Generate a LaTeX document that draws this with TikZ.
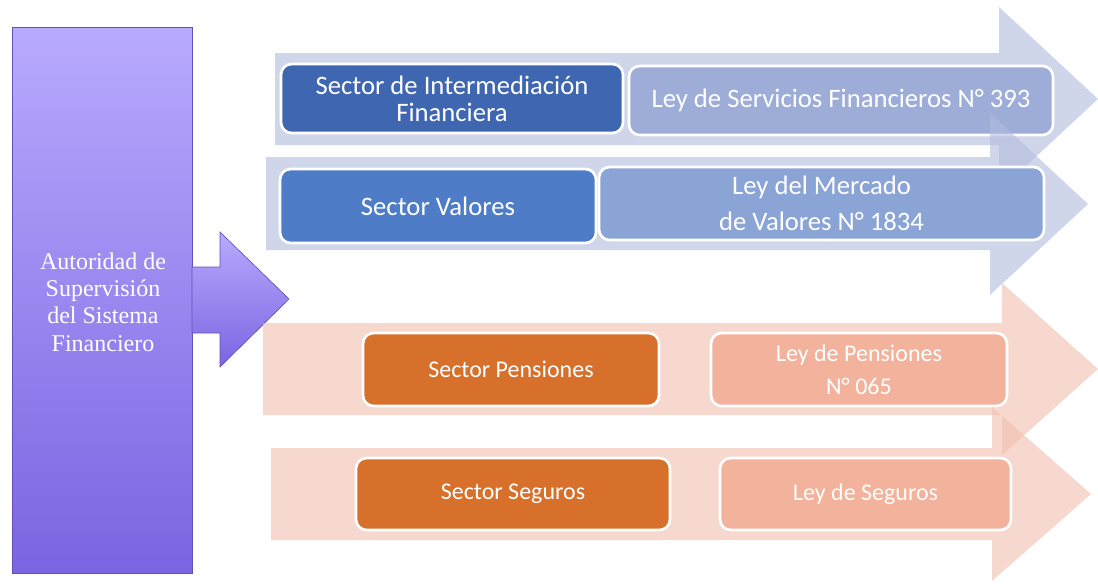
\documentclass[tikz,border=0pt]{standalone}
\usepackage{fontspec}
\setmainfont{Liberation Serif}
\newfontfamily\boxfont{Carlito}

\definecolor{authtop}{RGB}{184,170,253}
\definecolor{authbot}{RGB}{124,100,226}
\definecolor{arrowblue}{RGB}{177,187,220}
\definecolor{arrowpeach}{RGB}{242,190,173}
\definecolor{sectorblueA}{RGB}{63,103,177}
\definecolor{lawblueA}{RGB}{157,173,216}
\definecolor{sectorblueB}{RGB}{79,124,198}
\definecolor{lawblueB}{RGB}{138,164,214}
\definecolor{sectororange}{RGB}{215,112,43}
\definecolor{lawsalmon}{RGB}{242,178,155}

\tikzset{every picture/.style={line width=0.75pt}}
\tikzset{
  bigarrow/.style={fill opacity=0.6, draw=none},
  sectorbox/.style={draw=white, line width=2pt, rounded corners=8pt, text=white, align=center, font=\boxfont\fontsize{20}{20}\selectfont, inner sep=0pt},
  lowbox/.style={sectorbox, font=\boxfont\fontsize{18}{18}\selectfont}
}

\begin{document}
\begin{tikzpicture}[x=0.75pt,y=0.75pt,yscale=-1,xscale=1]
\useasboundingbox (0,0) rectangle (1098,583);

%Shape: Rectangle [id:authority]
\shade [top color=authtop, bottom color=authbot, draw=authbot!80!black, line width=0.5pt] (12,27) rectangle (192,573);
%Shape: Right Arrow [id:authority arrow]
\shade [top color=authtop, bottom color=authbot, draw=authbot!80!black, line width=0.5pt] (192,267) -- (220,267) -- (220,232) -- (289,299) -- (220,367) -- (220,333) -- (192,333) -- cycle ;
% Text Node
\node [text=white, align=center, font=\fontsize{18}{20.5}\selectfont] (auth) at (103,302) {Autoridad de\\Supervisión\\del Sistema\\Financiero};

%Shape: Right Arrow [id:row one]
\fill [arrowblue, bigarrow] (275,53) -- (999,53) -- (999,7) -- (1098,99) -- (999,191) -- (999,145) -- (275,145) -- cycle ;
% Text Node
\node [sectorbox, fill=sectorblueA, minimum width=256.5pt, minimum height=51.75pt] (interm) at (452,98.5) {Sector de Intermediación\\Financiera};
% Text Node
\node [sectorbox, fill=lawblueA, minimum width=318pt, minimum height=51.75pt] (leyinterm) at (841,100.5) {Ley de Servicios Financieros N° 393};

%Shape: Right Arrow [id:row two]
\fill [arrowblue, bigarrow] (266,157) -- (990,157) -- (990,113) -- (1088,204) -- (990,295) -- (990,250) -- (266,250) -- cycle ;
% Text Node
\node [sectorbox, fill=sectorblueB, minimum width=237pt, minimum height=55.5pt] (valores) at (438,206) {Sector Valores};
% Text Node
\node [sectorbox, fill=lawblueB, minimum width=333.75pt, minimum height=54.75pt] (leyvalores) at (821.5,203.5) {Ley del Mercado\\[7pt]de Valores N° 1834};

%Shape: Right Arrow [id:row three]
\fill [arrowpeach, bigarrow] (263,323) -- (1002,323) -- (1002,283) -- (1098,369) -- (1002,455) -- (1002,415) -- (263,415) -- cycle ;
% Text Node
\node [lowbox, fill=sectororange, minimum width=222pt, minimum height=54.75pt] (pensiones) at (511,369.5) {Sector Pensiones};
% Text Node
\node [lowbox, fill=lawsalmon, minimum width=222pt, minimum height=54.75pt] (leypensiones) at (859,369.5) {Ley de Pensiones\\[7pt]N° 065};

%Shape: Right Arrow [id:row four]
\fill [arrowpeach, bigarrow] (271,448) -- (992,448) -- (992,407) -- (1091,494) -- (992,581) -- (992,540) -- (271,540) -- cycle ;
% Text Node
\node [lowbox, fill=sectororange, minimum width=235.5pt, minimum height=54pt] (seguros) at (513,494) {Sector Seguros};
% Text Node
\node [lowbox, fill=lawsalmon, minimum width=218.25pt, minimum height=54pt] (leyseguros) at (865.5,494) {Ley de Seguros};

\end{tikzpicture}
\end{document}
